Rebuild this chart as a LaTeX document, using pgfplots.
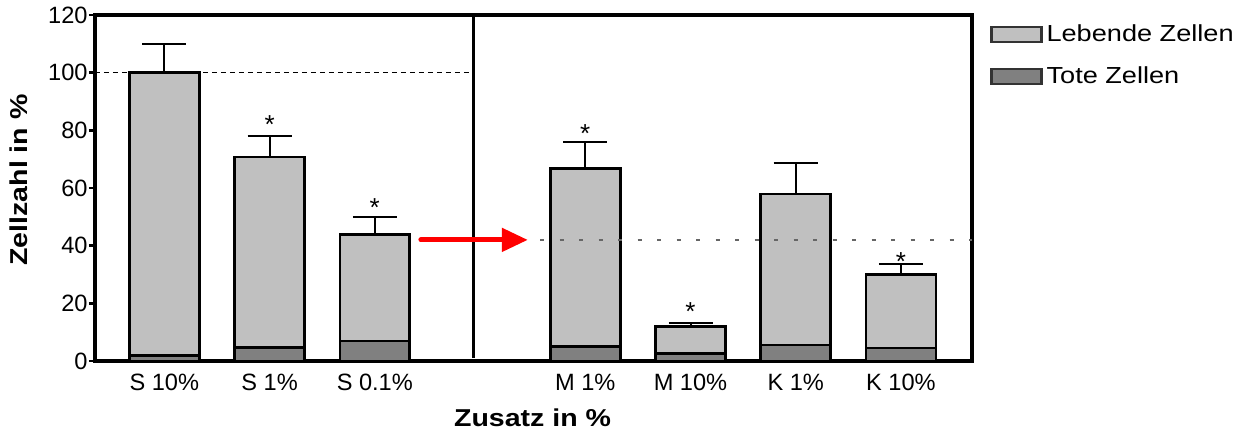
\documentclass[border=0pt]{standalone}
\usepackage{fontspec}
\setmainfont{Liberation Sans}
\newfontfamily\wide[FakeStretch=1.17]{Liberation Sans}
\usepackage{pgfplots}
\usepackage{pgfplotstable}
\pgfplotsset{compat=1.18}
\usetikzlibrary{arrows.meta}
\definecolor{live}{HTML}{C0C0C0}
\definecolor{dead}{HTML}{808080}
\pgfplotstableread{
x live dead err
0 100  1.9 10
1 70.7 4.7 7.2
2 43.8 6.9 6.0
4 66.8 5.0 9.0
5 11.9 2.5 1.3
6 57.9 5.6 10.7
7 29.9 4.5 3.7
}\datatable
\begin{document}
\begin{tikzpicture}
\useasboundingbox (-47.5pt,-35.5pt) rectangle (577.5pt,180.5pt);
\begin{axis}[
  width=438.5pt, height=173pt, scale only axis,
  xmin=-0.659, xmax=7.675, ymin=0, ymax=120,
  xtick={0,1,2,4,5,6,7},
  xticklabels={S 10\%, S 1\%, S 0.1\%, M 1\%, M 10\%, K 1\%, K 10\%},
  ytick={0,20,...,120},
  axis line style={line width=1.8pt},
  tick align=outside, ytick pos=left, xtick pos=bottom,
  major tick length=3pt,
  y tick style={line width=1.3pt, black},
  x tick style={draw=none},
  ticklabel style={font=\fontsize{11.8}{13}\selectfont},
  yticklabel style={inner sep=0.5pt},
  /pgf/number format/assume math mode=true,
  xlabel={Zusatz in \%},
  ylabel={Zellzahl in \%},
  label style={font=\wide\bfseries\fontsize{12.2}{14}\selectfont},
  xlabel style={at={(axis description cs:0.499,-0.165)}, anchor=center},
  ylabel style={at={(axis description cs:-0.0867,0.523)}, anchor=center},
  legend style={at={(rel axis cs:1.0205,0.985)}, anchor=north west, draw=none, fill=none,
    inner sep=0pt, row sep=7pt, font=\wide\fontsize{11.6}{14}\selectfont},
  legend cell align=left,
]
\addplot[ybar, bar width=0.665, bar shift=0pt, fill=live, draw=black, line width=1.3pt,
  legend image code/.code={\draw[fill=live, draw=black!80, line width=1.1pt] (0pt,-3.75pt) rectangle (25pt,3.75pt);},
  error bars/.cd, y dir=plus, y explicit,
  error bar style={line width=1pt, black},
  error mark options={rotate=90, line width=1pt, mark size=11pt, black}]
  table[x=x, y=live, y error=err] {\datatable};
\addlegendentry{Lebende Zellen}
\addplot[ybar, bar width=0.665, bar shift=0pt, fill=dead, draw=black, line width=1.3pt,
  legend image code/.code={\draw[fill=dead, draw=black!80, line width=1.1pt] (0pt,-3.75pt) rectangle (25pt,3.75pt);}]
  table[x=x, y=dead] {\datatable};
\addlegendentry{Tote Zellen}
% reference lines
\addplot[forget plot, black, line width=0.7pt, dash pattern=on 2.5pt off 2pt] coordinates {(-0.659,100) (2.937,100)};
\addplot[forget plot, black!60, line width=0.8pt, dash pattern=on 2pt off 7.75pt] coordinates {(3.571,42) (7.675,42)};
\addplot[forget plot, black, line width=1.4pt] coordinates {(2.937,1) (2.937,120)};
% arrow
\addplot[forget plot, red, line width=2.5pt, line cap=round, -{Triangle[length=13pt,width=11.5pt]}] coordinates {(2.438,42) (3.454,42)};
% significance stars
\addplot[forget plot, draw=none, mark=none, nodes near coords={*},
  every node near coord/.style={font=\fontsize{13}{14}\selectfont, anchor=base, yshift=-7.4pt, inner sep=0pt}]
  coordinates {(1,83.9) (2,55.3) (4,80.8) (5,19.2) (7,36.6)};
\end{axis}
\end{tikzpicture}
\end{document}
